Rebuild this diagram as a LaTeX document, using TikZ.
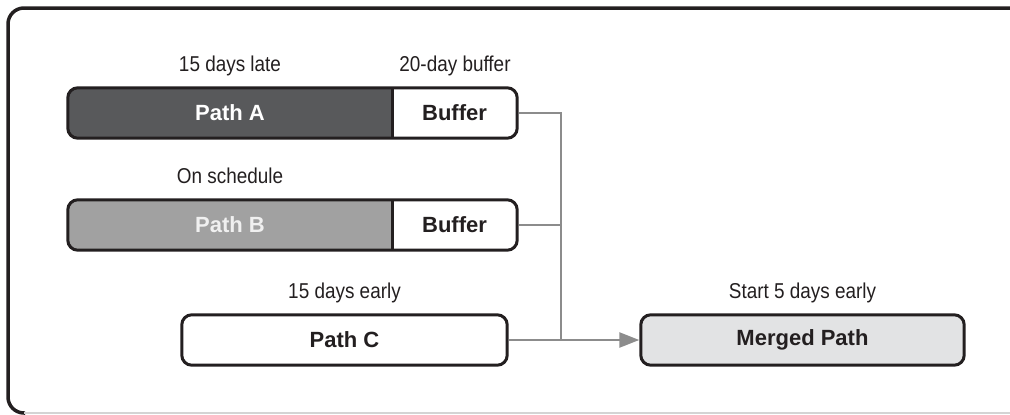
\documentclass[tikz,border=0pt]{standalone}
\usepackage{fontspec}
\setmainfont{Liberation Sans}
\newfontfamily\labfont[FakeStretch=0.88]{Liberation Sans}
\usetikzlibrary{arrows.meta,backgrounds,calc}
\definecolor{ink}{HTML}{231F20}
\definecolor{colA}{HTML}{58595B}
\definecolor{colB}{HTML}{A1A1A1}
\definecolor{colM}{HTML}{E2E3E4}
\definecolor{conn}{HTML}{8C8C8C}
\definecolor{rimgray}{HTML}{D4D4D4}
\tikzset{
  box/.style={inner sep=0pt, minimum height=50pt, font=\fontsize{22}{25}\selectfont\bfseries, text=ink},
  lab/.style={inner sep=0pt, anchor=base, font=\labfont\fontsize{21.5}{24}\selectfont, text=ink},
  rim/.style={draw=ink, line width=3pt, rounded corners=10pt},
  connline/.style={draw=conn, line width=2.5pt},
}
\begin{document}
\begin{tikzpicture}[x=1pt,y=-1pt]
\useasboundingbox (0,0) rectangle (1010,415);
% outer frame
\draw[ink, line width=3.5pt, rounded corners=16pt] (25,413) -- (8,413) -- (8,8) -- (1015,8);
\draw[rimgray, line width=1.2pt] (24,413) -- (1015,413);

% nodes
\node[box, minimum width=324pt, text=white] (pA) at (230,113) {Path A};
\node[box, minimum width=125pt] (bA) at (454.5,113) {Buffer};
\node[box, minimum width=324pt, text=white!94!black] (pB) at (230,225) {Path B};
\node[box, minimum width=125pt] (bB) at (454.5,225) {Buffer};
\node[box, minimum width=325pt] (pC) at (344.5,340) {Path C};
\node[box, minimum width=323pt] (mg) at (802.5,340) {Merged Path};

\node[lab] (lA) at (230,71) {15 days late};
\node[lab] (lbuf) at (455,71) {20-day buffer};
\node[lab] (lB) at (230,183) {On schedule};
\node[lab] (lC) at (344.5,298) {15 days early};
\node[lab] (lM) at (802.5,298) {Start 5 days early};

\begin{scope}[on background layer]
  % Path A + buffer
  \fill[white, rounded corners=10pt] (pA.north west) rectangle (bA.south east);
  \begin{scope}
    \clip[rounded corners=10pt] (pA.north west) rectangle (bA.south east);
    \fill[colA] (pA.north west) rectangle (pA.south east);
  \end{scope}
  \draw[rim] (pA.north west) rectangle (bA.south east);
  \draw[ink, line width=3pt] (pA.north east) -- (pA.south east);
  % Path B + buffer
  \fill[white, rounded corners=10pt] (pB.north west) rectangle (bB.south east);
  \begin{scope}
    \clip[rounded corners=10pt] (pB.north west) rectangle (bB.south east);
    \fill[colB] (pB.north west) rectangle (pB.south east);
  \end{scope}
  \draw[rim] (pB.north west) rectangle (bB.south east);
  \draw[ink, line width=3pt] (pB.north east) -- (pB.south east);
  % Path C
  \draw[rim, fill=white] (pC.north west) rectangle (pC.south east);
  % Merged
  \draw[rim, fill=colM] (mg.north west) rectangle (mg.south east);
\end{scope}

% connectors
\coordinate (j) at (561,340);
\draw[connline] ([xshift=1.5pt]bA.east) -| (j);
\draw[connline] ([xshift=1.5pt]bB.east) -- (bB.east -| j);
\draw[connline, -{Triangle[length=20pt,width=15pt]}] ([xshift=1.5pt]pC.east) -- ([xshift=-1.5pt]mg.west);
\end{tikzpicture}
\end{document}
